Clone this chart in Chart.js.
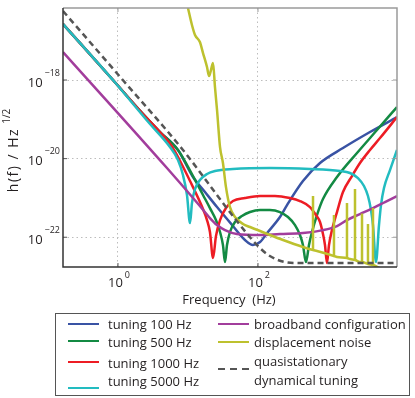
<!DOCTYPE html>
<html>
<head>
<meta charset="utf-8">
<script src="https://cdn.jsdelivr.net/npm/chart.js@4.4.0/dist/chart.umd.min.js"></script>
<style>
  html, body { margin: 0; padding: 0; background: #fff; }
  #wrap { position: relative; width: 415px; height: 398px; }
  #chart { position: absolute; left: 0; top: 0; }
  #legend { position: absolute; left: 55px; top: 313px; width: 355px; height: 83px; border: 1px solid #555; box-sizing: border-box; }
  .swatch { position: absolute; width: 31px; height: 2.5px; }
  .lbl { position: absolute; font: 13px "Open Sans", sans-serif; color: #231f20; line-height: 19px; white-space: nowrap; }
</style>
</head>
<body>
<div id="wrap">
  <canvas id="chart" width="415" height="398"></canvas>
  <div id="legend"></div>
</div>
<script>
// axis ranges and ticks
const X_MIN = 0.164, X_MAX = 9680;
const Y_MIN = 1.75e-23, Y_MAX = 6.8e-17;
const xTickValues = [1, 100];
const xTickExponents = ['0', '2'];
const yTickValues = [1e-22, 1e-20, 1e-18];
const yTickExponents = ['\u221222', '\u221220', '\u221218'];

// tuning 100 Hz
const blueFreq = [0.164, 0.848, 2.28, 3.98, 7.2, 11.8, 17.5, 26.0, 43.9, 65.2, 84.8, 107, 135, 206, 260, 439, 769, 1638, 3981, 9676];
const blueH = [2.66e-17, 1e-18, 1.36e-19, 4.75e-20, 1.66e-20, 3.40e-21, 1.41e-21, 5.86e-22, 1.93e-22, 8.49e-23, 6.34e-23, 7.55e-23, 1.28e-22, 3.27e-22, 6.59e-22, 2.69e-21, 7.73e-21, 1.86e-20, 4.75e-20, 1.14e-19];

// tuning 500 Hz
const greenFreq = [0.164, 0.848, 2.28, 3.98, 7.20, 11.8, 16.4, 20.6, 25.1, 28.7, 31.6, 33.8, 36.1, 39.8, 46.9, 59.0, 76.9, 107, 148, 206, 268, 338, 398, 439, 485, 535, 591, 696, 848, 1345, 2596, 5012, 9676];
const greenH = [2.66e-17, 1e-18, 1.36e-19, 4.75e-20, 1.66e-20, 3.61e-21, 1.19e-21, 5.53e-22, 2.74e-22, 1.36e-22, 6.34e-23, 2.34e-23, 6.34e-23, 1.36e-22, 2.44e-22, 3.46e-22, 4.38e-22, 4.92e-22, 4.92e-22, 4.38e-22, 3.27e-22, 2.04e-22, 1.14e-22, 6.34e-23, 2.34e-23, 6.34e-23, 1.36e-22, 3.67e-22, 9.37e-22, 3.40e-21, 1.39e-20, 5.35e-20, 2.06e-19];

// tuning 1000 Hz
const redFreq = [0.164, 0.848, 2.28, 3.98, 6.11, 10.7, 16.4, 18.7, 20.6, 22.8, 25.1, 28.7, 34.9, 43.9, 65.2, 107, 175, 286, 398, 553, 674, 769, 848, 906, 968, 1034, 1140, 1345, 1638, 2203, 2865, 3981, 5534, 9676];
const redH = [2.66e-17, 1e-18, 1.36e-19, 4.75e-20, 1.86e-20, 2.69e-21, 5.22e-22, 2.74e-22, 1.36e-22, 2.96e-23, 1.07e-22, 2.74e-22, 5.53e-22, 8.34e-22, 9.93e-22, 1.12e-21, 1.12e-21, 9.93e-22, 8.34e-22, 5.86e-22, 3.67e-22, 2.44e-22, 1.21e-22, 6.34e-23, 2.21e-23, 6.34e-23, 1.52e-22, 4.38e-22, 1.41e-21, 3.61e-21, 7.73e-21, 1.66e-20, 3.34e-20, 1.14e-19];

// tuning 5000 Hz
const cyanFreq = [0.164, 0.848, 2.87, 5.53, 7.20, 8.48, 9.68, 10.7, 11.4, 12.6, 14.8, 18.7, 24.3, 43.9, 148, 553, 1484, 2062, 2683, 3268, 3727, 4115, 4394, 4850, 5353, 5719, 6310, 7686, 9676];
const cyanH = [2.66e-17, 1e-18, 7.59e-20, 1.97e-20, 9.20e-21, 3.83e-21, 1.19e-21, 2.30e-22, 7.41e-22, 1.68e-21, 2.85e-21, 4.06e-21, 4.83e-21, 5.43e-21, 5.77e-21, 5.43e-21, 4.83e-21, 4.31e-21, 3.21e-21, 2.01e-21, 1.12e-21, 4.92e-22, 2.04e-22, 2.34e-23, 2.04e-22, 6.59e-22, 1.79e-21, 5.13e-21, 1.66e-20];

// broadband configuration
const magentaFreq = [0.164, 5.01, 14.8, 20.6, 26.0, 33.8, 50.1, 107, 206, 439, 848, 1345, 1868, 2865, 4394, 6516, 9676];
const magentaH = [5.15e-18, 5.77e-21, 6.22e-22, 3.08e-22, 2.04e-22, 1.52e-22, 1.21e-22, 1.14e-22, 1.21e-22, 1.28e-22, 1.52e-22, 1.93e-22, 2.74e-22, 3.89e-22, 5.53e-22, 7.87e-22, 1.12e-21];

// displacement noise (smooth part + narrow lines)
const yellowFreq = [10.0, 11.4, 12.6, 14.8, 16.4, 18.7, 20.0, 21.3, 22.8, 24.3, 26.0, 28.7, 31.6, 34.9, 39.8, 46.9, 61.1, 76.9, 148, 228, 439, 611, 696, 1218, 1345, 1868, 2062, 2432, 2865, 3062, 3727, 4394, 5534];
const yellowH = [6.79e-17, 2.51e-17, 1.40e-17, 9.27e-18, 4.86e-18, 2.14e-18, 1.26e-18, 1.79e-18, 2.71e-18, 6.64e-19, 1.73e-19, 1.97e-20, 7.73e-21, 1.89e-21, 5.86e-22, 3.27e-22, 2.17e-22, 1.82e-22, 1.14e-22, 8.49e-23, 5.64e-23, 4.72e-23, 4.46e-23, 3.33e-23, 3.13e-23, 2.96e-23, 2.79e-23, 2.63e-23, 2.34e-23, 2.34e-23, 2.08e-23, 1.96e-23, 1.64e-23];
const spikeFreq = [611, 1218, 1868, 2432, 3062, 3727, 4394];
const spikeBase = [4.72e-23, 3.33e-23, 2.96e-23, 2.63e-23, 2.34e-23, 2.08e-23, 1.96e-23];
const spikeTop = [1.12e-21, 3.67e-22, 7.41e-22, 1.68e-21, 4.0e-22, 2.17e-22, 5.53e-22];

// quasistationary dynamical tuning
const dashFreq = [0.164, 1.14, 8.48, 43.9, 100, 148, 243, 398, 9676];
const dashH = [5.70e-17, 1.06e-18, 1.66e-20, 3.46e-22, 5.97e-23, 3.33e-23, 2.34e-23, 2.21e-23, 2.21e-23];

const FONT = '"Open Sans", sans-serif';

function pairs(fs, hs) {
    return fs.map((f, i) => ({ x: f, y: hs[i] }));
}

function spikeData() {
    const out = [];
    spikeFreq.forEach((f, i) => {
        out.push({ x: f, y: spikeBase[i] }, { x: f, y: spikeTop[i] }, { x: f, y: null });
    });
    return out;
}

function line(label, fs, hs, color, order, extra) {
    return Object.assign({
        label: label,
        data: pairs(fs, hs),
        borderColor: color,
        borderWidth: 2.5,
        pointRadius: 0,
        fill: false,
        cubicInterpolationMode: 'monotone',
        order: order
    }, extra || {});
}

const series = [
    { label: 'tuning 100 Hz', color: '#3953a4' },
    { label: 'tuning 500 Hz', color: '#138a43' },
    { label: 'tuning 1000 Hz', color: '#ed1c24' },
    { label: 'tuning 5000 Hz', color: '#22bcc0' },
    { label: 'broadband configuration', color: '#a23d9c' },
    { label: 'displacement noise', color: '#bdc12e' },
    { label: 'quasistationary\ndynamical tuning', color: '#555555', dash: true }
];

const axisDecor = {
    id: 'axisDecor',
    afterDatasetsDraw(chart) {
        const { ctx, chartArea: a, scales: { x, y } } = chart;
        ctx.save();
        // light frame on top and right
        ctx.strokeStyle = '#9a9a9a';
        ctx.lineWidth = 1.5;
        ctx.beginPath();
        ctx.moveTo(a.left, a.top);
        ctx.lineTo(a.right, a.top);
        ctx.lineTo(a.right, a.bottom);
        ctx.stroke();

        // tick marks
        ctx.lineWidth = 1;
        xTickValues.forEach(v => {
            const px = x.getPixelForValue(v);
            ctx.strokeStyle = '#555';
            ctx.beginPath(); ctx.moveTo(px, a.bottom); ctx.lineTo(px, a.bottom - 4); ctx.stroke();
            ctx.strokeStyle = '#999';
            ctx.beginPath(); ctx.moveTo(px, a.top); ctx.lineTo(px, a.top + 4); ctx.stroke();
        });
        yTickValues.forEach(v => {
            const py = y.getPixelForValue(v);
            ctx.strokeStyle = '#555';
            ctx.beginPath(); ctx.moveTo(a.left, py); ctx.lineTo(a.left + 4, py); ctx.stroke();
            ctx.strokeStyle = '#999';
            ctx.beginPath(); ctx.moveTo(a.right, py); ctx.lineTo(a.right - 4, py); ctx.stroke();
        });

        // dark axes on left and bottom
        ctx.strokeStyle = '#333';
        ctx.lineWidth = 1.5;
        ctx.beginPath();
        ctx.moveTo(a.left, a.top);
        ctx.lineTo(a.left, a.bottom);
        ctx.lineTo(a.right, a.bottom);
        ctx.stroke();

        // tick labels: 10 with superscript exponent
        ctx.fillStyle = '#231f20';
        ctx.textBaseline = 'middle';
        ctx.textAlign = 'left';
        xTickValues.forEach((v, i) => {
            const px = x.getPixelForValue(v);
            ctx.font = '13px ' + FONT;
            const w10 = ctx.measureText('10').width;
            ctx.font = '9px ' + FONT;
            const we = ctx.measureText(xTickExponents[i]).width;
            const left = px + 1 - (w10 + 2 + we) / 2;
            ctx.font = '13px ' + FONT;
            ctx.fillText('10', left, a.bottom + 16);
            ctx.font = '9px ' + FONT;
            ctx.fillText(xTickExponents[i], left + w10 + 2, a.bottom + 8);
        });
        yTickValues.forEach((v, i) => {
            const py = y.getPixelForValue(v);
            ctx.font = '9px ' + FONT;
            const we = ctx.measureText(yTickExponents[i]).width;
            ctx.font = '13px ' + FONT;
            const w10 = ctx.measureText('10').width;
            const right = a.left - 3;
            ctx.fillText('10', right - we - 2 - w10, py + 3);
            ctx.font = '9px ' + FONT;
            ctx.fillText(yTickExponents[i], right - we, py - 7);
        });

        // axis titles
        ctx.font = '13px ' + FONT;
        ctx.textAlign = 'center';
        ctx.fillText('Frequency  (Hz)', (a.left + a.right) / 2 - 1, a.bottom + 33);

        ctx.translate(14, 160);
        ctx.rotate(-Math.PI / 2);
        ctx.font = '14px ' + FONT;
        ctx.letterSpacing = '1.5px';
        const title = 'h(f) / Hz';
        const tw = ctx.measureText(title).width;
        ctx.fillText(title, 0, 0);
        ctx.font = '10px ' + FONT;
        ctx.letterSpacing = '0px';
        ctx.textAlign = 'left';
        ctx.fillText('1/2', tw / 2 + 4, -7);
        ctx.restore();
    }
};

const ctx = document.getElementById('chart').getContext('2d');
new Chart(ctx, {
    type: 'line',
    data: {
        datasets: [
            line(series[0].label, blueFreq, blueH, series[0].color, 7),
            line(series[1].label, greenFreq, greenH, series[1].color, 6),
            line(series[2].label, redFreq, redH, series[2].color, 5),
            line(series[3].label, cyanFreq, cyanH, series[3].color, 4),
            line(series[4].label, magentaFreq, magentaH, series[4].color, 3),
            line(series[5].label, yellowFreq, yellowH, series[5].color, 2),
            {
                label: 'displacement noise lines',
                data: spikeData(),
                borderColor: series[5].color,
                borderWidth: 2.5,
                pointRadius: 0,
                tension: 0,
                spanGaps: false,
                order: 2
            },
            line('quasistationary dynamical tuning', dashFreq, dashH, series[6].color, 1, { borderDash: [6, 4] })
        ]
    },
    options: {
        responsive: false,
        animation: false,
        layout: { padding: { left: 63, top: 8, right: 18, bottom: 131 } },
        plugins: { legend: { display: false }, tooltip: { enabled: false } },
        scales: {
            x: {
                type: 'logarithmic',
                min: X_MIN,
                max: X_MAX,
                afterBuildTicks: s => { s.ticks = xTickValues.map(v => ({ value: v })); },
                afterFit: s => { s.height = 0; },
                ticks: { display: false },
                grid: { color: '#bdbdbd', lineWidth: 1, drawTicks: false },
                border: { display: false, dash: [1.5, 3] }
            },
            y: {
                type: 'logarithmic',
                min: Y_MIN,
                max: Y_MAX,
                afterBuildTicks: s => { s.ticks = yTickValues.map(v => ({ value: v })); },
                afterFit: s => { s.width = 0; },
                ticks: { display: false },
                grid: { color: '#bdbdbd', lineWidth: 1, drawTicks: false },
                border: { display: false, dash: [1.5, 3] }
            }
        }
    },
    plugins: [axisDecor]
});

// legend box under the plot
const legendSlots = [
    { line: [12, 10], text: [52, 10] },
    { line: [12, 27], text: [52, 28] },
    { line: [12, 48], text: [52, 49] },
    { line: [12, 74], text: [52, 67] },
    { line: [162, 10], text: [198, 10] },
    { line: [162, 28], text: [198, 28] },
    { line: [162, 55], text: [198, 57] }
];
const legendEl = document.getElementById('legend');
series.forEach((s, i) => {
    const slot = legendSlots[i];
    const sw = document.createElement('div');
    sw.className = 'swatch';
    sw.style.left = slot.line[0] + 'px';
    sw.style.top = (slot.line[1] - 1.25) + 'px';
    sw.style.background = s.dash
        ? 'repeating-linear-gradient(to right, ' + s.color + ' 0 7px, transparent 7px 12px)'
        : s.color;
    legendEl.appendChild(sw);
    const lbl = document.createElement('div');
    lbl.className = 'lbl';
    const lines = s.label.split('\n');
    lbl.innerHTML = lines.join('<br>');
    lbl.style.left = slot.text[0] + 'px';
    lbl.style.top = (slot.text[1] - 9.5 * lines.length) + 'px';
    legendEl.appendChild(lbl);
});
</script>
</body>
</html>
